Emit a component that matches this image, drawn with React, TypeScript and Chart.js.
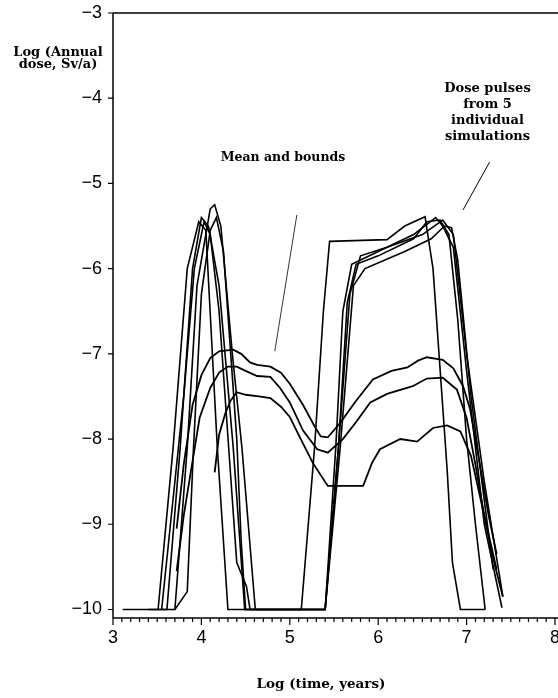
import React, { useEffect, useRef } from "react";
import { Chart, registerables } from "chart.js";

Chart.register(...registerables);

// ---- data (log10 time, log10 dose) ----
const xTicks = [3, 4, 5, 6, 7, 8];
const yTicks = [-3, -4, -5, -6, -7, -8, -9, -10];

const sim1 = [[3.11,-10],[3.51,-10],[3.68,-8.1],[3.84,-6.0],[3.97,-5.45],[4.05,-5.55],[4.18,-8.1],[4.30,-10],[5.13,-10],[5.28,-8.1],[5.38,-6.5],[5.45,-5.68],[6.1,-5.66],[6.3,-5.5],[6.53,-5.39],[6.62,-6.0],[6.78,-8.36],[6.84,-9.45],[6.93,-10],[7.21,-10]];
const sim2 = [[3.4,-10],[3.61,-10],[3.76,-8.1],[3.9,-6.0],[4.0,-5.4],[4.08,-5.5],[4.2,-6.2],[4.36,-8.1],[4.49,-10],[5.4,-10],[5.55,-8.1],[5.65,-6.4],[5.75,-5.95],[6.0,-5.85],[6.4,-5.65],[6.55,-5.45],[6.7,-5.43],[6.8,-5.6],[6.9,-6.6],[7.0,-8.0],[7.1,-9.0],[7.21,-10]];
const sim3 = [[3.5,-10],[3.7,-10],[3.84,-8.1],[3.95,-6.2],[4.1,-5.3],[4.15,-5.25],[4.22,-5.5],[4.35,-7.0],[4.46,-8.12],[4.61,-10],[5.4,-10],[5.55,-8.1],[5.68,-6.3],[5.8,-5.85],[6.1,-5.75],[6.5,-5.6],[6.73,-5.43],[6.85,-5.6],[7.0,-7.0],[7.2,-8.5],[7.41,-9.85]];
const sim4 = [[3.7,-10],[3.84,-9.79],[3.91,-8.12],[4.0,-6.3],[4.1,-5.55],[4.17,-5.4],[4.25,-5.8],[4.4,-8.0],[4.45,-9.2],[4.5,-10],[5.4,-10],[5.57,-8.1],[5.72,-6.2],[5.85,-6.0],[6.3,-5.8],[6.6,-5.65],[6.75,-5.5],[6.83,-5.52],[6.9,-5.9],[7.05,-7.5],[7.3,-9.53]];
const sim5 = [[3.55,-10],[3.65,-9.0],[3.8,-7.5],[3.92,-6.0],[4.03,-5.45],[4.1,-5.6],[4.2,-6.5],[4.4,-9.45],[4.51,-9.73],[4.55,-10],[5.4,-10],[5.52,-8.1],[5.6,-6.5],[5.7,-5.95],[6.0,-5.8],[6.4,-5.6],[6.65,-5.4],[6.73,-5.5],[6.85,-5.75],[7.0,-7.2],[7.2,-9.0],[7.40,-9.98]];

const meanUpper = [[3.72,-9.05],[3.8,-8.3],[3.9,-7.6],[4.0,-7.25],[4.1,-7.05],[4.2,-6.97],[4.36,-6.95],[4.45,-7.0],[4.55,-7.1],[4.63,-7.13],[4.78,-7.15],[4.9,-7.22],[5.0,-7.35],[5.15,-7.6],[5.28,-7.85],[5.35,-7.97],[5.43,-7.98],[5.57,-7.81],[5.75,-7.55],[5.94,-7.3],[6.15,-7.2],[6.33,-7.16],[6.45,-7.08],[6.55,-7.04],[6.73,-7.07],[6.85,-7.17],[6.96,-7.38],[7.04,-7.65],[7.15,-8.3],[7.25,-8.9],[7.34,-9.35]];
const meanMid = [[3.72,-9.55],[3.8,-8.9],[3.87,-8.45],[3.98,-7.75],[4.1,-7.4],[4.2,-7.22],[4.3,-7.15],[4.4,-7.15],[4.5,-7.2],[4.63,-7.26],[4.78,-7.27],[4.89,-7.4],[5.0,-7.57],[5.15,-7.9],[5.31,-8.12],[5.43,-8.16],[5.6,-8.0],[5.75,-7.8],[5.91,-7.57],[6.1,-7.47],[6.39,-7.38],[6.55,-7.29],[6.73,-7.28],[6.89,-7.42],[7.0,-7.75],[7.1,-8.3],[7.2,-8.9],[7.3,-9.4],[7.41,-9.85]];
const meanLower = [[4.15,-8.39],[4.2,-7.95],[4.27,-7.7],[4.33,-7.55],[4.40,-7.45],[4.5,-7.48],[4.65,-7.5],[4.78,-7.52],[4.9,-7.62],[5.0,-7.74],[5.1,-7.95],[5.26,-8.28],[5.43,-8.55],[5.83,-8.55],[5.93,-8.28],[6.02,-8.12],[6.25,-8.0],[6.44,-8.03],[6.62,-7.87],[6.78,-7.84],[6.93,-7.91],[7.05,-8.2],[7.2,-8.9],[7.34,-9.53]];

const pointerMean = [[5.08,-5.37],[4.83,-6.97]];
const pointerSims = [[7.26,-4.75],[6.96,-5.31]];

const X_MIN = 3, X_MAX = 8, Y_MIN = -10.1, Y_MAX = -3;

const toPts = (arr: number[][]) => arr.map(([x, y]) => ({ x, y }));

const axesPlugin = {
  id: "axesPlugin",
  afterDraw(chart: any) {
    const { ctx, chartArea, scales } = chart;
    const xs = scales.x, ys = scales.y;
    ctx.save();
    ctx.strokeStyle = "#000";
    ctx.lineWidth = 1.5;
    ctx.beginPath();
    ctx.moveTo(chartArea.left, chartArea.top);
    ctx.lineTo(chartArea.left, chartArea.bottom);
    ctx.moveTo(chartArea.left, chartArea.bottom);
    ctx.lineTo(chartArea.right + 3, chartArea.bottom);
    ctx.moveTo(chartArea.left, chartArea.top);
    ctx.lineTo(chartArea.right + 3, chartArea.top);
    ctx.stroke();
    ctx.lineWidth = 1.2;
    ctx.beginPath();
    for (let i = 0; i <= 50; i++) {
      const v = X_MIN + i * 0.1;
      const px = xs.getPixelForValue(v);
      const major = i % 10 === 0;
      ctx.moveTo(px, chartArea.bottom);
      ctx.lineTo(px, chartArea.bottom + (major ? 7 : 4));
    }
    for (const t of yTicks) {
      const py = ys.getPixelForValue(t);
      ctx.moveTo(chartArea.left, py);
      ctx.lineTo(chartArea.left - 5, py);
    }
    ctx.stroke();
    ctx.restore();
  },
};

export default function App() {
  const ref = useRef<HTMLCanvasElement | null>(null);
  useEffect(() => {
    if (!ref.current) return;
    const line = (d: number[][], w = 1.6) => ({
      data: toPts(d),
      showLine: true,
      borderColor: "#000",
      backgroundColor: "#000",
      borderWidth: w,
      pointRadius: 0,
      tension: 0,
      fill: false,
    });
    const chart = new Chart(ref.current, {
      type: "scatter",
      data: {
        datasets: [
          line(sim1), line(sim2), line(sim3), line(sim4), line(sim5),
          line(meanUpper, 1.8), line(meanMid, 1.8), line(meanLower, 1.8),
          line(pointerMean, 0.8), line(pointerSims, 1.0),
        ],
      },
      options: {
        animation: false,
        responsive: false,
        layout: { padding: { top: 13, right: 3, left: 0, bottom: 0 } },
        plugins: { legend: { display: false }, tooltip: { enabled: false } },
        scales: {
          x: {
            type: "linear",
            min: X_MIN,
            max: X_MAX,
            afterFit: (s: any) => { s.height = 80; s.paddingRight = 0; s.paddingLeft = 0; },
            grid: { display: false, drawTicks: false },
            border: { display: false },
            ticks: {
              stepSize: 1,
              padding: 9,
              color: "#000",
              font: { family: "'Liberation Sans', Arial, sans-serif", size: 18 },
              callback: (v: any) => (xTicks.includes(Number(v)) ? String(v) : ""),
            },
          },
          y: {
            type: "linear",
            min: Y_MIN,
            max: Y_MAX,
            afterFit: (s: any) => { s.width = 113; s.paddingTop = 0; s.paddingBottom = 0; },
            afterBuildTicks: (s: any) => { s.ticks = yTicks.map((v) => ({ value: v })); },
            grid: { display: false, drawTicks: false },
            border: { display: false },
            ticks: {
              padding: 11,
              color: "#000",
              font: { family: "'Liberation Sans', Arial, sans-serif", size: 18 },
              callback: (v: any) => (Number(v) < 0 ? "\u2212" + Math.abs(Number(v)) : String(v)),
            },
          },
        },
      },
      plugins: [axesPlugin],
    } as any);
    return () => chart.destroy();
  }, []);

  const lab: React.CSSProperties = {
    position: "absolute",
    fontFamily: "'DejaVu Serif', 'Liberation Serif', serif",
    fontWeight: "bold",
    fontSize: 12.5,
    color: "#000",
    textAlign: "center",
    lineHeight: "12px",
    whiteSpace: "nowrap",
  };

  return (
    <div style={{ position: "absolute", left: 0, top: 0, width: 558, height: 698, background: "#fff" }}>
      <canvas ref={ref} width={558} height={698} style={{ width: 558, height: 698, display: "block" }} />
      <div style={{ ...lab, fontSize: 13, left: 0, width: 116, top: 46 }}>Log (Annual<br />dose, Sv/a)</div>
      <div style={{ ...lab, left: 218, width: 130, top: 151 }}>Mean and bounds</div>
      <div style={{ ...lab, fontSize: 13, left: 430, width: 115, top: 80, lineHeight: "16px" }}>Dose pulses<br />from 5<br />individual<br />simulations</div>
      <div style={{ ...lab, fontSize: 13.5, left: 251, width: 140, top: 677 }}>Log (time, years)</div>
    </div>
  );
}
